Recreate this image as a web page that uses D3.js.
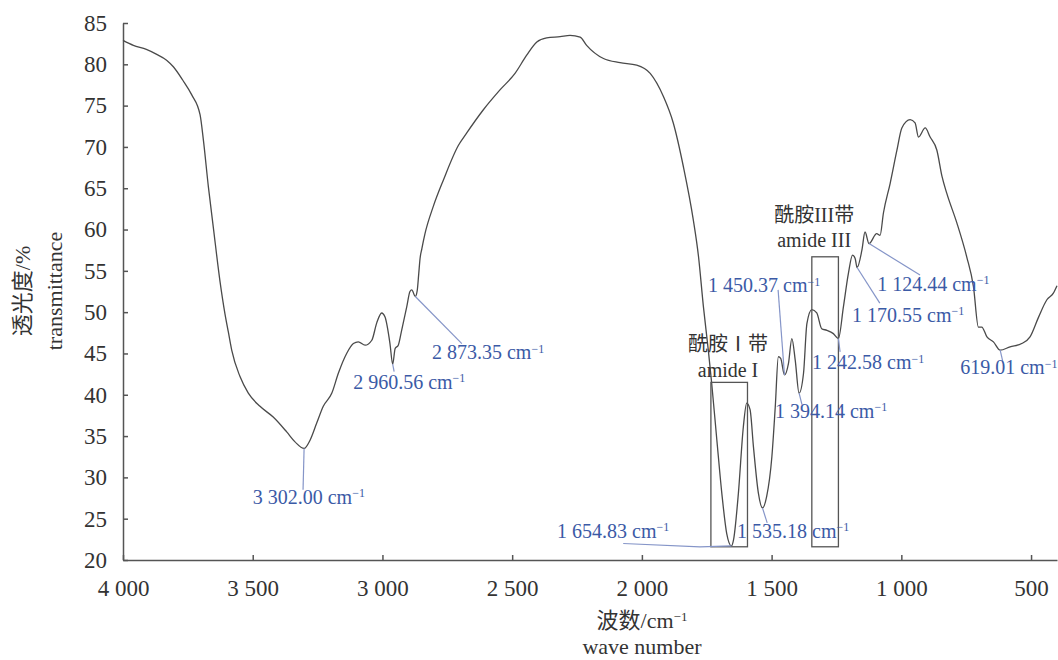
<!DOCTYPE html>
<html>
<head>
<meta charset="utf-8">
<script src="https://cdn.jsdelivr.net/npm/d3@7"></script>
<style>
body {margin:0; background:#fff;}
.spectrum {fill:none; stroke:#4a4a4a; stroke-width:1.3;}
.axis path, .axis line {stroke:#555; stroke-width:1.5;}
.axis text {fill:#333; font-family:"Liberation Serif","Noto Sans CJK SC",serif; font-size:23px;}
.band {fill:none; stroke:#555; stroke-width:1.3;}
.leader {fill:none; stroke:#8595c8; stroke-width:1.2;}
.peak {fill:#3b5aa6; font-family:"Liberation Serif",serif; font-size:20px;}
.bandlabel {fill:#333; font-family:"Liberation Serif","Noto Sans CJK SC",serif; font-size:20px; text-anchor:middle;}
.title {fill:#333; font-family:"Liberation Serif","Noto Sans CJK SC",serif; font-size:22px; text-anchor:middle;}
</style>
</head>
<body>
<script>
// spectrum (wavenumber cm-1, transmittance %)
var wavenumber=[4000,3960,3910,3870,3832,3806,3770,3735,3703,3690,3671,3652,3626,3607,3594,3581,3549,3517,3472,3421,
	3369,3337,3302,3279,3253,3228,3195,3170,3138,3112,3093,3067,3041,3022,3003,2990,2971,2960.56,2951,2939,
	2926,2906,2894,2887,2873.35,2866,2860,2855,2848,2836,2804,2765,2707,2675,2611,2547,2489,2444,2405,2367,
	2315,2277,2238,2213,2148,2084,2020,1968,1917,1879,1840,1802,1782,1763,1744,1731,1711,1692,1673,1654.83,
	1647,1628,1609,1596,1583,1570,1551,1535.18,1519,1499,1486,1474,1465,1450.37,1435,1422,1409,1394.14,1377,1364,
	1345,1326,1307,1287,1262,1242.58,1223,1204,1188,1178,1170.55,1152,1140,1124.44,1095,1082,1069,1043,1017,998,
	966,947,934,908,889,863,843,825,786,748,722,703,690,670,645,619.01,581,536,504,471,
	439,414,400];
var transmittance=[82.9,82.3,81.8,81.2,80.5,79.7,78.1,76.3,73.9,70.8,65.2,60.3,53.7,49.8,47.6,45.4,42.2,40.2,38.6,37.3,
	35.5,34.3,33.5,34.5,36.6,38.6,40.2,42.6,45.0,46.2,46.4,46.0,46.6,48.7,49.9,49.4,46.2,43.7,45.6,46.0,
	47.8,50.7,52.5,52.7,51.9,52.6,54.7,56.5,57.7,59.5,62.8,66.0,70.2,71.7,74.5,76.9,78.9,81.1,82.7,83.2,
	83.35,83.5,83.3,82.3,80.7,80.2,79.9,78.9,76.1,72.9,67.6,61.2,56.8,50.7,45.4,41.4,34.5,28.1,23.2,21.7,
	22.4,28.1,36.1,39.0,38.2,33.7,28.1,26.3,27.7,32.5,38.5,44.6,44.4,42.4,43.8,46.8,44.2,40.2,42.6,48.6,
	50.3,49.9,48.0,47.8,47.4,46.8,50.7,54.7,56.9,56.5,55.4,57.5,59.7,58.3,59.5,59.3,62.0,65.6,69.6,72.3,
	73.3,72.9,71.2,72.3,71.2,69.6,66.4,64.4,60.8,56.7,53.1,48.2,48.2,47.0,46.4,45.4,45.8,46.2,47.0,49.4,
	51.5,52.3,53.2];

var xTicks=[4000,3500,3000,2500,2000,1500,1000,500];
var yTicks=[20,25,30,35,40,45,50,55,60,65,70,75,80,85];

// labelled peaks
var peakWn=[3302.00,2960.56,2873.35,1654.83,1535.18,1450.37,1394.14,1242.58,1170.55,1124.44,619.01];
var peakT=[33.5,43.7,51.9,21.7,26.3,42.4,40.2,46.8,55.4,58.3,45.4];

// amide bands: [from, to] wavenumber, [bottom, top] transmittance
var bandNamesZh=["酰胺Ⅰ带","酰胺III带"];
var bandNamesEn=["amide I","amide III"];
var bandFrom=[1734,1345];
var bandTo=[1593,1242.5];
var bandBottom=[21.6,21.6];
var bandTop=[41.5,56.7];

// annotation layout, in data units
var leaderPts=[[[3306,28.5]],[[2955,42.8]],[[2694,46.2]],[[1776,21.6],[2072,22.0]],[[1517,24.5]],[[1475,52.7]],
	[[1383,38.8]],[[1236,45.2]],[[1083,51.1]],[[928,54.5]],[[608,43.9]]];
var labelAt=[[3500,26.8],[3113,40.7],[2809,44.3],[2327,22.7],[1633,22.7],[1745,52.4],[1487,37.2],[1344,43.1],
	[1190,48.8],[1093,52.6],[773,42.5]];
var bandLabelAt=[[1668,45.3,42.1],[1336,60.9,57.9]];

var width=1058, height=660;
var x=d3.scaleLinear().domain([4000,400]).range([123,1057]);
var y=d3.scaleLinear().domain([20,85]).range([560,23]);

var loc=d3.formatLocale({decimal:".",thousands:" ",grouping:[3],currency:["",""]});
var fmtTick=loc.format(",d");
var fmtPeak=loc.format(",.2f");

var svg=d3.select("body").append("svg").attr("width",width).attr("height",height);

svg.append("g").attr("class","axis").attr("transform","translate(0,560)").
	call(d3.axisBottom(x).tickValues(xTicks).tickSize(-5).tickSizeOuter(0).tickPadding(20).tickFormat(fmtTick));
svg.append("g").attr("class","axis").attr("transform","translate(123,0)").
	call(d3.axisLeft(y).tickValues(yTicks).tickSize(-5).tickSizeOuter(0).tickPadding(16));

var spectrum=wavenumber.map(function(d,i) {return [d,transmittance[i]];});
var line=d3.line().x(function(d) {return x(d[0]);}).y(function(d) {return y(d[1]);}).curve(d3.curveMonotoneX);
svg.append("path").datum(spectrum).attr("class","spectrum").attr("d",line);

// band boxes
svg.selectAll(".band").data(bandFrom).enter().append("rect").
	attr("class","band").
	attr("x",function(d) {return x(d);}).
	attr("y",function(d,i) {return y(bandTop[i]);}).
	attr("width",function(d,i) {return x(bandTo[i])-x(d);}).
	attr("height",function(d,i) {return y(bandBottom[i])-y(bandTop[i]);});

bandLabelAt.forEach(function(p,i) {
	svg.append("text").attr("class","bandlabel").attr("x",x(p[0])).attr("y",y(p[1])).text(bandNamesZh[i]);
	svg.append("text").attr("class","bandlabel").attr("x",x(p[0])).attr("y",y(p[2])).text(bandNamesEn[i]);
});

// peak leaders and labels
var leaderLine=d3.line().x(function(d) {return x(d[0]);}).y(function(d) {return y(d[1]);});
peakWn.forEach(function(w,i) {
	svg.append("path").attr("class","leader").attr("d",leaderLine([[w,peakT[i]]].concat(leaderPts[i])));
	var t=svg.append("text").attr("class","peak").attr("x",x(labelAt[i][0])).attr("y",y(labelAt[i][1]));
	t.append("tspan").text(fmtPeak(w)+" cm");
	t.append("tspan").attr("dy","-0.55em").attr("font-size","12px").text("\u22121");
});

// axis titles
svg.append("text").attr("class","title").attr("transform","translate(30,291) rotate(-90)").text("透光度/%");
svg.append("text").attr("class","title").attr("transform","translate(62,291) rotate(-90)").text("transmittance");
var xt=svg.append("text").attr("class","title").attr("x",642).attr("y",628).attr("font-size","21px");
xt.append("tspan").text("波数/cm");
xt.append("tspan").attr("dy","-0.55em").attr("font-size","13px").text("\u22121");
svg.append("text").attr("class","title").attr("x",642).attr("y",654).text("wave number");
</script>
</body>
</html>
